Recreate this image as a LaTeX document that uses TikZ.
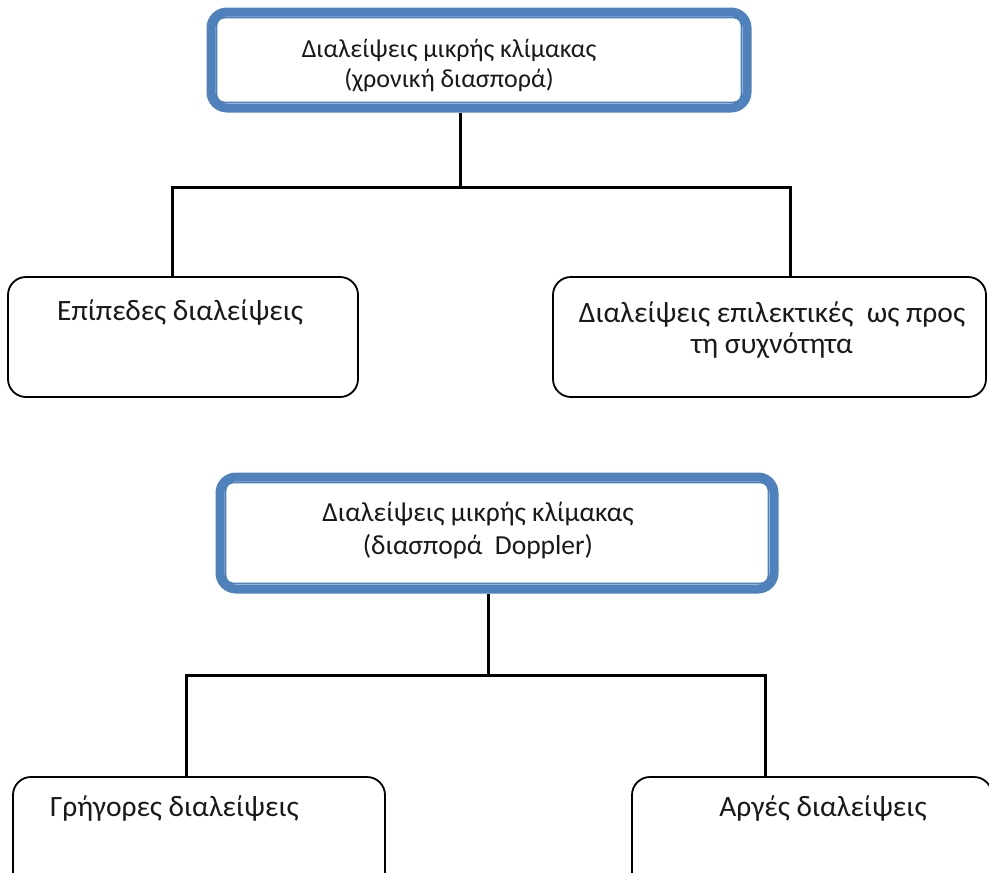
\documentclass[tikz,border=0pt]{standalone}
\usepackage{fontspec}
\setmainfont{Carlito}
\usetikzlibrary{calc}
\definecolor{frameblue}{RGB}{79,129,189}
\definecolor{inktext}{RGB}{25,25,25}
\tikzset{
  headbox/.style={draw=frameblue, line width=9pt, rounded corners=16pt, fill=white,
    inner sep=0pt},
  headinner/.style={draw=frameblue, line width=1.8pt, rounded corners=8pt},
  leafbox/.style={draw=black, line width=1.8pt, rounded corners=18pt, fill=white,
    inner sep=0pt},
  conn/.style={draw=black, line width=3pt},
  lbl/.style={font=\fontsize{26}{30}\selectfont, text=inktext, inner sep=0pt,
    align=center},
  lbltwo/.style={font=\fontsize{27.5}{33}\selectfont, text=inktext, inner sep=0pt,
    align=center},
  leaflbl/.style={font=\fontsize{29.5}{31}\selectfont, text=inktext, inner sep=0pt,
    align=center},
}
\begin{document}
\begin{tikzpicture}[x=1pt,y=-1pt]
\useasboundingbox (0,0) rectangle (989,873);
\clip (0,0) rectangle (989,873);

% ---- upper tree: time dispersion ----
\node[headbox, minimum width=536pt, minimum height=96pt] (top) at (479,60) {};
\draw[headinner] ($(top.north west)+(10,10)$) rectangle ($(top.south east)+(-10,-10)$);
\node[lbl] (toptext) at (449,66) {Διαλείψεις μικρής κλίμακας\\(χρονική διασπορά)};

\node[leafbox, minimum width=350pt, minimum height=120pt] (left) at (183,337) {};
\node[leaflbl, anchor=west] (lefttext) at (57,312) {Επίπεδες διαλείψεις};

\node[leafbox, minimum width=433pt, minimum height=120pt] (right) at (769.5,337) {};
\node[leaflbl] (righttext) at (772,330) {Διαλείψεις επιλεκτικές\ \ ως προς\\τη συχνότητα};

\coordinate (ja) at (460,187);
\coordinate (la) at (172,187);
\coordinate (ra) at (790,187);
\draw[conn] (ja |- top.south) -- (ja);
\draw[conn] (la |- left.north) -- (la) -- (ra) -- (ra |- right.north);

% ---- lower tree: Doppler spread ----
\node[headbox, minimum width=554pt, minimum height=112pt] (bot) at (497,533) {};
\draw[headinner] ($(bot.north west)+(10,10)$) rectangle ($(bot.south east)+(-10,-10)$);
\node[lbltwo] (bottext) at (478,531) {Διαλείψεις μικρής κλίμακας\\(διασπορά\ \ Doppler)};

\node[leafbox, minimum width=372pt, minimum height=130pt] (bl) at (199,842) {};
\node[leaflbl, anchor=west] (bltext) at (50,808) {Γρήγορες διαλείψεις};

\node[leafbox, minimum width=360pt, minimum height=130pt] (br) at (812,842) {};
\node[leaflbl] (brtext) at (823,808) {Αργές διαλείψεις};

\coordinate (jb) at (488,675);
\coordinate (lb) at (186,675);
\coordinate (rb) at (765,675);
\draw[conn] (jb |- bot.south) -- (jb);
\draw[conn] (lb |- bl.north) -- (lb) -- (rb) -- (rb |- br.north);
\end{tikzpicture}
\end{document}
